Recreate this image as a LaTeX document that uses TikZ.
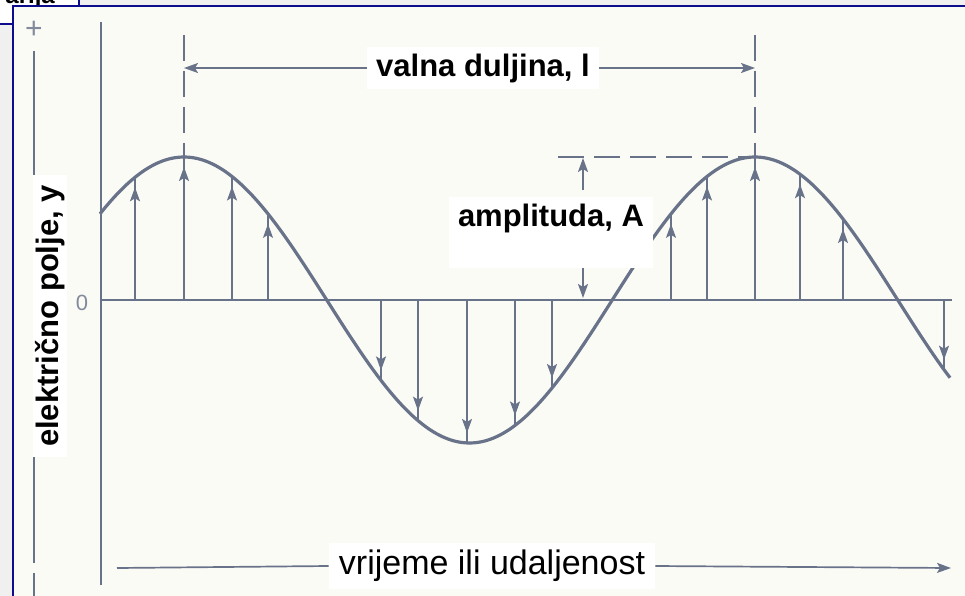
\documentclass[tikz,border=0pt]{standalone}
\usepackage{fontspec}
\setmainfont{Liberation Sans}
\usetikzlibrary{arrows.meta}

\definecolor{outerbg}{RGB}{240,240,240}
\definecolor{panelbg}{RGB}{251,251,246}
\definecolor{frameblue}{RGB}{12,12,140}
\definecolor{ink}{RGB}{104,114,136}
\definecolor{inklight}{RGB}{130,138,155}

\begin{document}
\begin{tikzpicture}[x=1pt,y=-1pt,
 wave/.style={draw=ink,line width=3.2pt},
 axis/.style={draw=ink,line width=2pt},
 vec/.style={draw=ink,line width=1.7pt},
 tip/.style={vec,-{Stealth[length=14pt,width=10pt,inset=3pt]}},
 guide/.style={draw=ink,line width=1.6pt,dash pattern=on 26pt off 10pt},
 lbl/.style={fill=white,text=black,inner xsep=9pt,inner ysep=7pt,
  font=\fontsize{31}{31}\selectfont\bfseries},
 tick/.style={text=inklight,inner sep=0pt}]
\useasboundingbox (0,0) rectangle (965,596);
\clip (0,0) rectangle (965,596);
% window around the figure
\fill[outerbg] (0,0) rectangle (965,596);
\draw[frameblue,line width=2pt,fill=white] (-10,-20) rectangle (79,24);
\begin{scope}
 \clip (0,0) rectangle (78,23);
 \node[anchor=base east,inner sep=0pt,font=\fontsize{24}{24}\selectfont\bfseries] (tab) at (55,4) {arija};
\end{scope}
\draw[frameblue,line width=2.5pt,fill=panelbg] (13,6) rectangle (990,620);

% axes
\draw[axis] (101,22) -- (101,585);
\draw[axis] (101,300) -- (952,300);
\node[tick,font=\fontsize{22}{22}\selectfont] (zero) at (82,303) {0};
\node[tick,font=\fontsize{30}{30}\selectfont] (plus) at (34,30) {+};

% the wave and its field vectors (wavelength 571, amplitude 143)
\draw[wave] plot[domain=100:950,samples=150,smooth] (\x,{300-143*cos(0.630473*(\x-184))});
\foreach \xa in {135,184,232,268,381,418,467,515,552,671,707,755,800,843,944}{
 \pgfmathsetmacro\yc{300-143*cos(0.630473*(\xa-184))}
 \pgfmathsetmacro\yt{\yc+10*sign(300-\yc)}
 \draw[vec] (\xa,300) -- (\xa,\yc);
 \draw[tip] (\xa,300) -- (\xa,\yt);
}

% wavelength
\coordinate (peakL) at (184,157);
\coordinate (peakR) at (755,157);
\draw[guide] (184,35) -- (peakL);
\draw[guide] (755,35) -- (peakR);
\node[lbl] (wl) at (483,68) {valna duljina, l};
\draw[tip] (wl.west) -- (184,68);
\draw[tip] (wl.east) -- (755,68);

% amplitude
\draw[guide] (558,157) -- (peakR);
\node[lbl,anchor=base,text depth=35pt] (amp) at (551,226) {amplituda, A};
\draw[tip] (583,190) -- (583,158);
\draw[tip] (amp.south -| 583,0) -- (583,298);

% axis labels
\node[lbl,rotate=90,inner xsep=10pt,inner ysep=2pt] (ylab) at (50,316) {električno polje, y};
\draw[vec] (34,51) -- (ylab.east -| 34,0);
\draw[vec] (ylab.west -| 34,0) -- (34,563);
\draw[vec] (34,573) -- (34,596);
\node[lbl,font=\fontsize{34}{34}\selectfont,inner xsep=10pt] (xlab) at (492,566) {vrijeme ili udaljenost};
\draw[vec] (117,568) -- (xlab.west);
\draw[tip] (xlab.east) -- (951,568);
\end{tikzpicture}
\end{document}
